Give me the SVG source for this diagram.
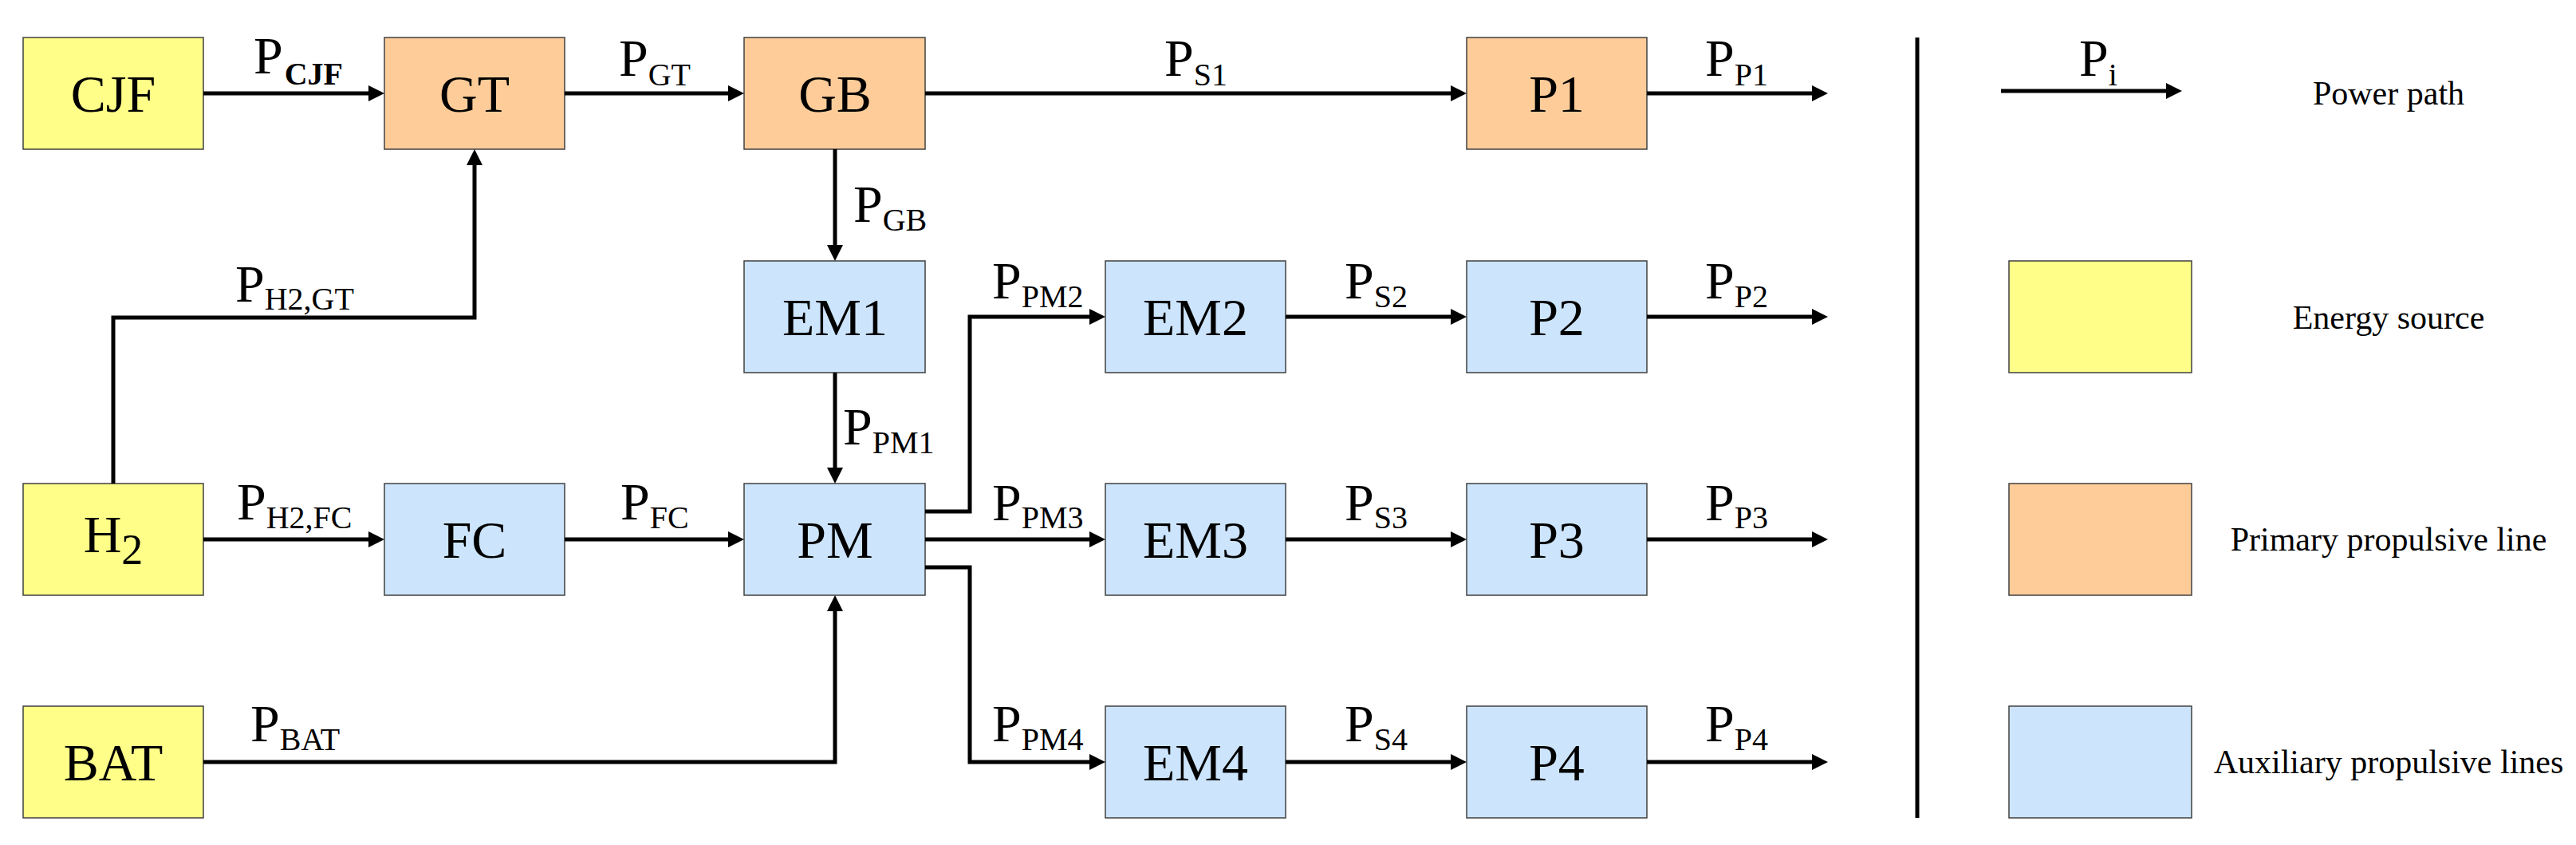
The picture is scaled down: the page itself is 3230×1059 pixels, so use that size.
<svg xmlns="http://www.w3.org/2000/svg" width="3230" height="1059" viewBox="0 0 3230 1059">
<style>
.yl{fill:#FEFE88;stroke:#404040;stroke-width:1.5}
.or{fill:#FECC99;stroke:#404040;stroke-width:1.5}
.bl{fill:#CCE4FC;stroke:#404040;stroke-width:1.5}
.nt{font-family:"Liberation Serif","Times New Roman",serif;font-size:66px;fill:#000;text-anchor:middle}
.pl{font-family:"Liberation Serif","Times New Roman",serif;font-size:66px;fill:#000}
.sb{font-size:40px}
.lt{font-family:"Liberation Serif","Times New Roman",serif;font-size:42px;fill:#000;text-anchor:middle}
.cn{fill:none;stroke:#000;stroke-width:5;stroke-linejoin:miter;marker-end:url(#ah)}
.ln{fill:none;stroke:#000;stroke-width:5}
</style>
<defs>
<marker id="ah" markerUnits="userSpaceOnUse" markerWidth="20" markerHeight="20" refX="10" refY="10" orient="auto" viewBox="0 0 20 20">
<path d="M0,0 L20,10 L0,20 z" fill="#000"/>
</marker>
</defs>
<rect width="3230" height="1059" fill="#fff"/>

<g id="nodes">
<g id="CJF"><rect class="yl" x="29" y="47" width="226" height="140"/><text class="nt" x="142" y="140">CJF</text></g>
<g id="GT"><rect class="or" x="482" y="47" width="226" height="140"/><text class="nt" x="595" y="140">GT</text></g>
<g id="GB"><rect class="or" x="933" y="47" width="227" height="140"/><text class="nt" x="1047" y="140">GB</text></g>
<g id="P1"><rect class="or" x="1839" y="47" width="226" height="140"/><text class="nt" x="1952" y="140">P1</text></g>
<g id="EM1"><rect class="bl" x="933" y="327" width="227" height="140"/><text class="nt" x="1047" y="420">EM1</text></g>
<g id="EM2"><rect class="bl" x="1386" y="327" width="226" height="140"/><text class="nt" x="1499" y="420">EM2</text></g>
<g id="P2"><rect class="bl" x="1839" y="327" width="226" height="140"/><text class="nt" x="1952" y="420">P2</text></g>
<g id="H2"><rect class="yl" x="29" y="606" width="226" height="140"/><text class="nt" x="142" y="692">H<tspan font-size="54" dy="15">2</tspan></text></g>
<g id="FC"><rect class="bl" x="482" y="606" width="226" height="140"/><text class="nt" x="595" y="699">FC</text></g>
<g id="PM"><rect class="bl" x="933" y="606" width="227" height="140"/><text class="nt" x="1047" y="699">PM</text></g>
<g id="EM3"><rect class="bl" x="1386" y="606" width="226" height="140"/><text class="nt" x="1499" y="699">EM3</text></g>
<g id="P3"><rect class="bl" x="1839" y="606" width="226" height="140"/><text class="nt" x="1952" y="699">P3</text></g>
<g id="BAT"><rect class="yl" x="29" y="885" width="226" height="140"/><text class="nt" x="142" y="978">BAT</text></g>
<g id="EM4"><rect class="bl" x="1386" y="885" width="226" height="140"/><text class="nt" x="1499" y="978">EM4</text></g>
<g id="P4"><rect class="bl" x="1839" y="885" width="226" height="140"/><text class="nt" x="1952" y="978">P4</text></g>
</g>

<g id="connectors">
<path class="cn" d="M255,117 H472"/>
<path class="cn" d="M708,117 H923"/>
<path class="cn" d="M1160,117 H1829"/>
<path class="cn" d="M2065,117 H2282"/>
<path class="cn" d="M1047,187 V317"/>
<path class="cn" d="M142,606 V398 H595 V197"/>
<path class="cn" d="M255,676 H472"/>
<path class="cn" d="M708,676 H923"/>
<path class="cn" d="M255,955 H1047 V756"/>
<path class="cn" d="M1047,467 V596"/>
<path class="cn" d="M1160,641 H1216 V397 H1376"/>
<path class="cn" d="M1160,676 H1376"/>
<path class="cn" d="M1160,711 H1216 V955 H1376"/>
<path class="cn" d="M1612,397 H1829"/>
<path class="cn" d="M1612,676 H1829"/>
<path class="cn" d="M1612,955 H1829"/>
<path class="cn" d="M2065,397 H2282"/>
<path class="cn" d="M2065,676 H2282"/>
<path class="cn" d="M2065,955 H2282"/>
</g>

<g id="labels">
<text class="pl" x="318" y="92">P<tspan class="sb" font-weight="bold" dx="2" dy="14">CJF</tspan></text>
<text class="pl" x="776" y="95">P<tspan class="sb" dx="0" dy="12">GT</tspan></text>
<text class="pl" x="1460" y="95">P<tspan class="sb" dx="0" dy="12">S1</tspan></text>
<text class="pl" x="2138" y="95">P<tspan class="sb" dx="0" dy="12">P1</tspan></text>
<text class="pl" x="1070" y="278">P<tspan class="sb" dx="0" dy="11">GB</tspan></text>
<text class="pl" x="295" y="378">P<tspan class="sb" dx="0" dy="10">H2,GT</tspan></text>
<text class="pl" x="1057" y="557">P<tspan class="sb" dx="0" dy="11">PM1</tspan></text>
<text class="pl" x="297" y="651">P<tspan class="sb" dx="0" dy="11">H2,FC</tspan></text>
<text class="pl" x="778" y="651">P<tspan class="sb" dx="0" dy="11">FC</tspan></text>
<text class="pl" x="314" y="929">P<tspan class="sb" dx="0" dy="11">BAT</tspan></text>
<text class="pl" x="1244" y="374">P<tspan class="sb" dx="0" dy="11">PM2</tspan></text>
<text class="pl" x="1244" y="652">P<tspan class="sb" dx="0" dy="10">PM3</tspan></text>
<text class="pl" x="1244" y="929">P<tspan class="sb" dx="0" dy="11">PM4</tspan></text>
<text class="pl" x="1686" y="374">P<tspan class="sb" dx="0" dy="11">S2</tspan></text>
<text class="pl" x="1686" y="652">P<tspan class="sb" dx="0" dy="10">S3</tspan></text>
<text class="pl" x="1686" y="929">P<tspan class="sb" dx="0" dy="11">S4</tspan></text>
<text class="pl" x="2138" y="374">P<tspan class="sb" dx="0" dy="11">P2</tspan></text>
<text class="pl" x="2138" y="652">P<tspan class="sb" dx="0" dy="10">P3</tspan></text>
<text class="pl" x="2138" y="929">P<tspan class="sb" dx="0" dy="11">P4</tspan></text>
</g>

<g id="legend">
<path class="ln" d="M2404,47 V1025"/>
<path class="cn" d="M2509,114 H2726"/>
<text class="pl" x="2607" y="95">P<tspan class="sb" dx="0" dy="12">i</tspan></text>
<text class="lt" x="2995" y="131">Power path</text>
<rect class="yl" x="2519" y="327" width="229" height="140"/>
<text class="lt" x="2995" y="412">Energy source</text>
<rect class="or" x="2519" y="606" width="229" height="140"/>
<text class="lt" x="2995" y="690">Primary propulsive line</text>
<rect class="bl" x="2519" y="885" width="229" height="140"/>
<text class="lt" x="2995" y="969">Auxiliary propulsive lines</text>
</g>
</svg>
